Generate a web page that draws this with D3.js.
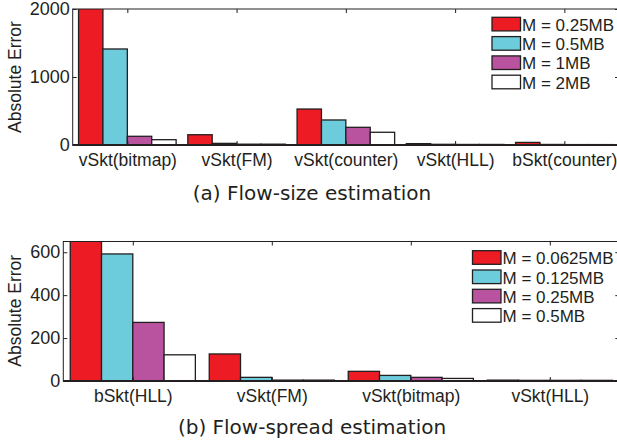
<!DOCTYPE html>
<html>
<head>
<script src="https://d3js.org/d3.v7.min.js"></script>
<style>
  body { margin: 0; background: #fff; }
  svg { display: block; font-family: "Liberation Sans", Arial, sans-serif; }
  .caption { font-family: "DejaVu Sans", sans-serif; }
</style>
</head>
<body>
<svg id="chart" width="617" height="444"></svg>
<script>
// panel (a) flow-size
const sizeCats = ["vSkt(bitmap)", "vSkt(FM)", "vSkt(counter)", "vSkt(HLL)", "bSkt(counter)"];
const sizeSeries = ["M = 0.25MB", "M = 0.5MB", "M = 1MB", "M = 2MB"];
const size025 = [2600, 151, 529, 20, 38];
const size05  = [1412, 24, 368, 10, 8];
const size1   = [128, 12, 260, 8, 6];
const size2   = [78, 12, 187, 8, 6];
const sizeTicks = [0, 1000, 2000];

// panel (b) flow-spread
const spreadCats = ["bSkt(HLL)", "vSkt(FM)", "vSkt(bitmap)", "vSkt(HLL)"];
const spreadSeries = ["M = 0.0625MB", "M = 0.125MB", "M = 0.25MB", "M = 0.5MB"];
const spread00625 = [900, 126, 45, 4];
const spread0125  = [592, 17, 26, 3];
const spread025   = [273, 4, 17, 3];
const spread05    = [122, 4, 12, 3];
const spreadTicks = [0, 200, 400, 600];

const colors = ["#ED1C24", "#6DCCDC", "#B9529F", "#FFFFFF"];
const ink = "#231F20";

const svg = d3.select("#chart");

function panel(cfg) {
  const g = svg.append("g");
  const x = d3.scaleLinear().domain([0.5, cfg.cats.length + 0.5]).range([cfg.left, cfg.right]);
  const y = d3.scaleLinear().domain([0, cfg.ymax]).range([cfg.bottom, cfg.top]);
  const step = x(2) - x(1);
  const bw = step * cfg.groupFrac / cfg.series.length;

  const clipId = "clip" + cfg.id;
  svg.append("clipPath").attr("id", clipId)
    .append("rect").attr("x", cfg.left).attr("y", cfg.top)
    .attr("width", cfg.right - cfg.left).attr("height", cfg.bottom - cfg.top);

  const bars = g.append("g").attr("clip-path", `url(#${clipId})`);
  cfg.values.forEach((vals, s) => {
    bars.selectAll(null).data(vals).enter().append("rect")
      .attr("x", (d, i) => x(i + 1) - step * cfg.groupFrac / 2 + s * bw)
      .attr("y", d => y(d))
      .attr("width", bw)
      .attr("height", d => y(0) - y(d))
      .attr("fill", colors[s])
      .attr("stroke", ink)
      .attr("stroke-width", 1.3);
  });

  // frame
  g.append("rect").attr("x", cfg.left).attr("y", cfg.top)
    .attr("width", cfg.right - cfg.left).attr("height", cfg.bottom - cfg.top)
    .attr("fill", "none").attr("stroke", ink).attr("stroke-width", 1);
  g.append("line").attr("x1", cfg.left).attr("x2", cfg.right)
    .attr("y1", cfg.bottom).attr("y2", cfg.bottom)
    .attr("stroke", ink).attr("stroke-width", 2);

  // x axis
  const xa = g.append("g").attr("transform", `translate(0,${cfg.bottom})`)
    .call(d3.axisBottom(x).tickValues(d3.range(1, cfg.cats.length + 1))
      .tickFormat(i => cfg.cats[i - 1]).tickSizeInner(-4).tickSizeOuter(0).tickPadding(9));
  xa.select(".domain").remove();
  xa.selectAll("line").attr("stroke", ink);
  xa.selectAll("text").attr("font-size", 17.5).attr("fill", ink);

  const xt = g.append("g").attr("transform", `translate(0,${cfg.top})`)
    .call(d3.axisTop(x).tickValues(d3.range(1, cfg.cats.length + 1))
      .tickFormat("").tickSizeInner(-4).tickSizeOuter(0));
  xt.select(".domain").remove();
  xt.selectAll("line").attr("stroke", ink);

  // y axis
  const ya = g.append("g").attr("transform", `translate(${cfg.left},0)`)
    .call(d3.axisLeft(y).tickValues(cfg.yticks).tickFormat(d3.format("d"))
      .tickSizeInner(-4).tickSizeOuter(0).tickPadding(3));
  ya.select(".domain").remove();
  ya.selectAll("line").attr("stroke", ink);
  ya.selectAll("text").attr("font-size", 18).attr("fill", ink);

  const yr = g.append("g").attr("transform", `translate(${cfg.right},0)`)
    .call(d3.axisRight(y).tickValues(cfg.yticks).tickFormat("").tickSizeInner(-4).tickSizeOuter(0));
  yr.select(".domain").remove();
  yr.selectAll("line").attr("stroke", ink);

  g.append("text")
    .attr("transform", `translate(21,${(cfg.top + cfg.bottom) / 2 + cfg.labelShift}) rotate(-90)`)
    .attr("text-anchor", "middle").attr("font-size", 17.5).attr("fill", ink)
    .text("Absolute Error");

  // legend
  const lg = g.append("g");
  cfg.series.forEach((name, s) => {
    const yy = cfg.legY + s * 19.3;
    lg.append("rect").attr("x", cfg.legX).attr("y", yy)
      .attr("width", 28.5).attr("height", 13.6)
      .attr("fill", colors[s]).attr("stroke", ink).attr("stroke-width", 1.3);
    lg.append("text").attr("x", cfg.legX + 30).attr("y", yy + 13.5)
      .attr("font-size", 17).attr("fill", ink).text(name);
  });

  g.append("text").attr("class", "caption").attr("x", 312).attr("y", cfg.capY)
    .attr("text-anchor", "middle").attr("font-size", 20).attr("fill", ink)
    .text(cfg.caption);
}

panel({
  id: "a", cats: sizeCats, series: sizeSeries,
  values: [size025, size05, size1, size2],
  ymax: 2000, yticks: sizeTicks,
  left: 72.7, right: 619, top: 9, bottom: 145, groupFrac: 0.893,
  legX: 492, legY: 17.3, labelShift: 0, capY: 200,
  caption: "(a) Flow-size estimation"
});

panel({
  id: "b", cats: spreadCats, series: spreadSeries,
  values: [spread00625, spread0125, spread025, spread05],
  ymax: 650, yticks: spreadTicks,
  left: 63.3, right: 619.3, top: 241.5, bottom: 381, groupFrac: 0.9,
  legX: 472.5, legY: 250.7, labelShift: -0.5, capY: 434,
  caption: "(b) Flow-spread estimation"
});
</script>
</body>
</html>
